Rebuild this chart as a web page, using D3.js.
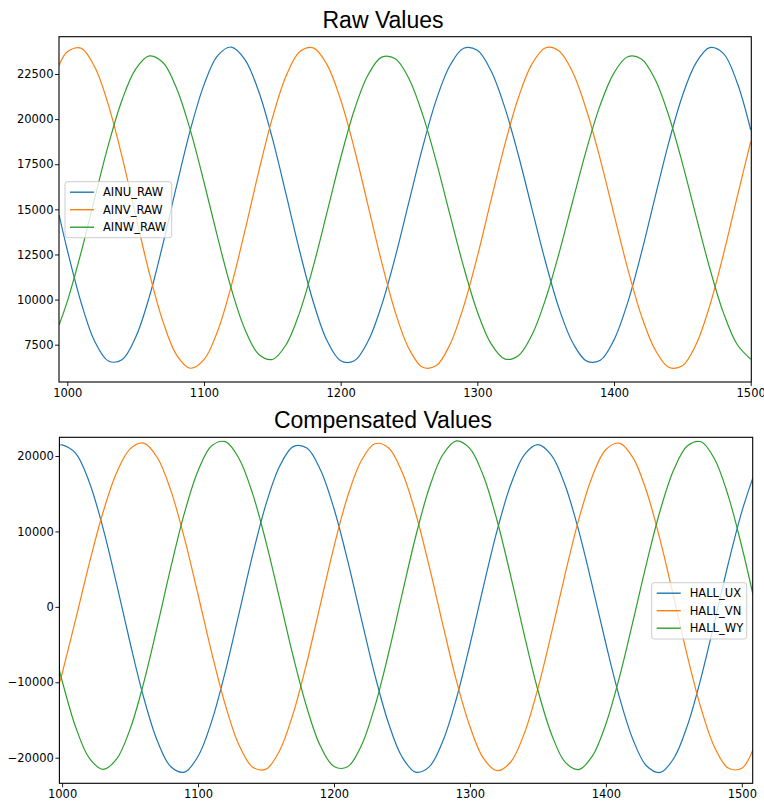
<!DOCTYPE html>
<html>
<head>
<meta charset="utf-8">
<script src="https://cdn.jsdelivr.net/npm/d3@7"></script>
<style>
  body { margin: 0; background: #ffffff; }
  .tick text { font-family: "DejaVu Sans", sans-serif; font-size: 11.5px; fill: #000; }
  .tick line { stroke: #000; stroke-width: 0.9; }
  .legend-text { font-family: "DejaVu Sans", sans-serif; font-size: 11.5px; fill: #000; }
  .panel-title { font-family: "Liberation Sans", Arial, sans-serif; font-size: 23px; fill: #000; }
</style>
</head>
<body>
<svg id="chart" width="764" height="802"></svg>
<script>

// x positions of the samples, raw panel
var rawSteps = [994, 1000, 1010, 1020, 1030, 1040, 1050, 1060, 1070, 1080,
  1090, 1100, 1110, 1120, 1130, 1140, 1150, 1160, 1170, 1180,
  1190, 1200, 1210, 1220, 1230, 1240, 1250, 1260, 1270, 1280,
  1290, 1300, 1310, 1320, 1330, 1340, 1350, 1360, 1370, 1380,
  1390, 1400, 1410, 1420, 1430, 1440, 1450, 1460, 1470, 1480,
  1490, 1500];

var ainuRaw = [14685, 12748, 9867, 7695, 6598, 6668, 7910, 10146, 13085, 16310,
  19389, 21899, 23515, 23994, 23301, 21540, 18944, 15859, 12691, 9864,
  7727, 6610, 6612, 7686, 9693, 12379, 15425, 18445, 21082, 22973,
  23928, 23815, 22682, 20664, 18010, 15017, 12055, 9463, 7576, 6591,
  6642, 7768, 9835, 12574, 15661, 18687, 21283, 23119, 23960, 23640,
  22040, 19400];

var ainvRaw = [22987, 23735, 23931, 22897, 20801, 17932, 14669, 11472, 8777, 6925,
  6196, 6669, 8261, 10761, 13832, 17074, 20051, 22374, 23735, 23951,
  23021, 21074, 18358, 15226, 12072, 9292, 7274, 6247, 6342, 7517,
  9624, 12392, 15506, 18557, 21185, 23059, 23954, 23766, 22556, 20463,
  17753, 14710, 11716, 9111, 7231, 6252, 6330, 7512, 9653, 12492,
  15655, 18750];

var ainwRaw = [8590, 9898, 12588, 15605, 18556, 21049, 22773, 23504, 23135, 21701,
  19390, 16510, 13445, 10598, 8345, 6973, 6682, 7491, 9293, 11851,
  14830, 17844, 20508, 22443, 23437, 23349, 22239, 20249, 17634, 14693,
  11810, 9329, 7558, 6713, 6893, 8048, 10044, 12634, 15518, 18350,
  20801, 22565, 23453, 23336, 22206, 20199, 17565, 14629, 11750, 9277,
  7523, 6697];

// x positions of the samples, compensated panel
var compSteps = [998, 1000, 1010, 1020, 1030, 1040, 1050, 1060, 1070, 1080,
  1090, 1100, 1110, 1120, 1130, 1140, 1150, 1160, 1170, 1180,
  1190, 1200, 1210, 1220, 1230, 1240, 1250, 1260, 1270, 1280,
  1290, 1300, 1310, 1320, 1330, 1340, 1350, 1360, 1370, 1380,
  1390, 1400, 1410, 1420, 1430, 1440, 1450, 1460, 1470, 1480,
  1490, 1500, 1508];

var hallUx = [21420, 21485, 20347, 16524, 10499, 3093, -4759, -12019, -17744, -21202,
  -21911, -19812, -15177, -8611, -959, 6786, 13613, 18629, 21239, 21054,
  18187, 13009, 6164, -1488, -8989, -15371, -19873, -21915, -21213, -17826,
  -12182, -5024, 2754, 10136, 16182, 20158, 21500, 20084, 16119, 10105,
  2795, -4891, -11999, -17628, -21104, -21950, -20075, -15712, -9407, -1951,
  5714, 12626, 17040];

var hallVn = [-10140, -8842, -1622, 5769, 12470, 17737, 20949, 21706, 19799, 15406,
  9076, 1605, -6063, -12971, -18268, -21217, -21515, -19047, -14124, -7380,
  330, 7989, 14626, 19340, 21625, 21101, 17904, 12447, 5397, -2316,
  -9755, -15872, -20099, -21719, -20569, -16772, -10799, -3455, 4334, 11575,
  17294, 20862, 21703, 19751, 15252, 8809, 1189, -6559, -13445, -18618,
  -21375, -21400, -19000];

var hallWy = [-8380, -9809, -15959, -20061, -21538, -20205, -16209, -10075, -2594, 5262,
  12453, 18056, 21352, 21897, 19706, 15076, 8589, 1060, -6585, -13349,
  -18462, -21168, -21207, -18447, -13231, -6251, 1594, 9262, 15732, 20165,
  22002, 20989, 17307, 11413, 4087, -3738, -11053, -16879, -20584, -21569,
  -19802, -15526, -9299, -1856, 5833, 12808, 18204, 21354, 21887, 19566,
  14714, 7970, 1794];

var rawNames = ['AINU_RAW', 'AINV_RAW', 'AINW_RAW'];
var compNames = ['HALL_UX', 'HALL_VN', 'HALL_WY'];

var rawXTicks = [1000, 1100, 1200, 1300, 1400, 1500];
var compXTicks = [1000, 1100, 1200, 1300, 1400, 1500];
var rawYTicks = [7500, 10000, 12500, 15000, 17500, 20000, 22500];
var compYTicks = [-20000, -10000, 0, 10000, 20000];

var colors = ['#1f77b4', '#ff7f0e', '#2ca02c'];

var svg = d3.select('#chart');

drawPanel({
  id: 'raw',
  title: 'Raw Values',
  titleY: 28,
  box: { left: 59, top: 36.7, right: 751.3, bottom: 382 },
  xDomain: [993.93, 1500.44],
  yDomain: [5433, 24567],
  xTicks: rawXTicks,
  yTicks: rawYTicks,
  steps: rawSteps,
  series: [ainuRaw, ainvRaw, ainwRaw],
  names: rawNames,
  legend: { x: 65, y: 181.7, w: 106.7, h: 56 }
});

drawPanel({
  id: 'comp',
  title: 'Compensated Values',
  titleY: 428,
  box: { left: 59.4, top: 437.3, right: 752.7, bottom: 783.3 },
  xDomain: [998, 1508],
  yDomain: [-23394, 22479],
  xTicks: compXTicks,
  yTicks: compYTicks,
  steps: compSteps,
  series: [hallUx, hallVn, hallWy],
  names: compNames,
  legend: { x: 651.7, y: 582.7, w: 95, h: 56.3 }
});

function drawPanel(p) {
  var b = p.box;

  var x = d3.scaleLinear().domain(p.xDomain).range([b.left, b.right]);
  var y = d3.scaleLinear().domain(p.yDomain).range([b.bottom, b.top]);

  var g = svg.append('g').attr('id', 'panel-' + p.id);

  g.append('clipPath')
    .attr('id', 'clip-' + p.id)
    .append('rect')
    .attr('x', b.left)
    .attr('y', b.top)
    .attr('width', b.right - b.left)
    .attr('height', b.bottom - b.top);

  // x axis
  g.append('g')
    .attr('transform', 'translate(0,' + b.bottom + ')')
    .call(d3.axisBottom(x).tickValues(p.xTicks).tickSize(4).tickPadding(3).tickFormat(d3.format('d')))
    .call((a) => a.select('.domain').remove());

  // y axis
  g.append('g')
    .attr('transform', 'translate(' + b.left + ',0)')
    .call(d3.axisLeft(y).tickValues(p.yTicks).tickSize(4).tickPadding(1.5).tickFormat(d3.format('d')))
    .call((a) => a.select('.domain').remove());

  var line = d3.line()
    .x((d) => x(d[0]))
    .y((d) => y(d[1]))
    .curve(d3.curveCatmullRom.alpha(0.5));

  var lines = g.append('g').attr('clip-path', 'url(#clip-' + p.id + ')');

  p.series.forEach((values, i) => {
    var pts = p.steps.map((s, j) => [s, values[j]]);
    lines.append('path')
      .datum(pts)
      .attr('d', line)
      .attr('fill', 'none')
      .attr('stroke', colors[i])
      .attr('stroke-width', 1.2)
      .attr('stroke-linejoin', 'round');
  });

  // frame around the axes
  g.append('rect')
    .attr('x', b.left)
    .attr('y', b.top)
    .attr('width', b.right - b.left)
    .attr('height', b.bottom - b.top)
    .attr('fill', 'none')
    .attr('stroke', '#000')
    .attr('stroke-width', 1.1);

  // title, centred on the figure
  svg.append('text')
    .attr('class', 'panel-title')
    .attr('x', 383)
    .attr('y', p.titleY)
    .attr('text-anchor', 'middle')
    .text(p.title);

  // legend
  var lg = g.append('g').attr('transform', 'translate(' + p.legend.x + ',' + p.legend.y + ')');
  lg.append('rect')
    .attr('width', p.legend.w)
    .attr('height', p.legend.h)
    .attr('rx', 2.5)
    .attr('fill', '#ffffff')
    .attr('fill-opacity', 0.8)
    .attr('stroke', '#cccccc')
    .attr('stroke-width', 1);

  p.names.forEach((name, i) => {
    var yy = 10.5 + i * 17.5;
    lg.append('line')
      .attr('x1', 5)
      .attr('x2', 29)
      .attr('y1', yy)
      .attr('y2', yy)
      .attr('stroke', colors[i])
      .attr('stroke-width', 1.4);
    lg.append('text')
      .attr('class', 'legend-text')
      .attr('x', 38)
      .attr('y', yy)
      .attr('dy', '0.36em')
      .text(name);
  });
}

</script>
</body>
</html>
